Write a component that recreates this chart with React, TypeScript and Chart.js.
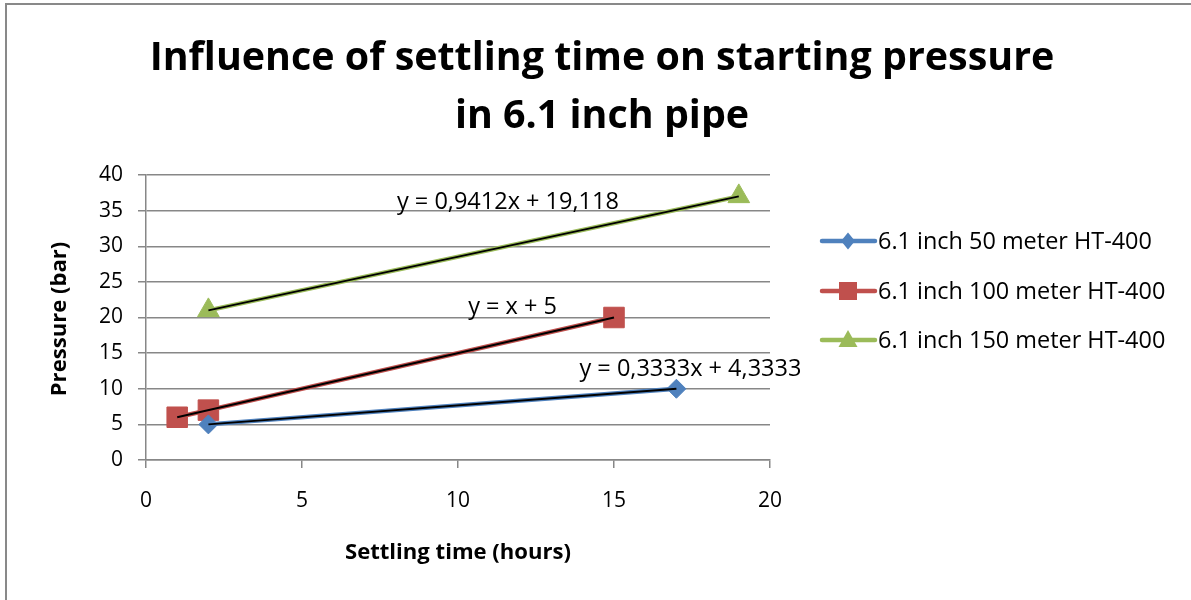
import React, { useEffect, useRef } from "react";
import { Chart, registerables } from "chart.js";

Chart.register(...registerables);

// ---------- data ----------
const SERIES_NAMES = [
  "6.1 inch 50 meter HT-400",
  "6.1 inch 100 meter HT-400",
  "6.1 inch 150 meter HT-400",
];
const HOURS_50 = [2, 17];
const PRESSURE_50 = [5, 10];
const HOURS_100 = [1, 2, 15];
const PRESSURE_100 = [6, 7, 20];
const HOURS_150 = [2, 19];
const PRESSURE_150 = [21, 37];
const TREND_LABELS = ["y = 0,3333x + 4,3333", "y = x + 5", "y = 0,9412x + 19,118"];
const X_TICKS = [0, 5, 10, 15, 20];
const Y_TICKS = [0, 5, 10, 15, 20, 25, 30, 35, 40];
const TITLE_LINES = ["Influence of settling time on starting pressure", "in 6.1 inch pipe"];
const X_TITLE = "Settling time (hours)";
const Y_TITLE = "Pressure (bar)";

// ---------- styles ----------
const COLORS = ["#4F81BD", "#C0504D", "#9BBB59"];
const STYLES: any[] = ["rectRot", "rect", "triangle"];
const RADII = [9.5, 14.5, 12.5];
const FONT = "'Open Sans', sans-serif";
const GRID = "#878787";

const pts = (xs: number[], ys: number[]) => xs.map((x, i) => ({ x, y: ys[i] }));

// choose a font size so that `text` spans `target` pixels
function fitFont(ctx: CanvasRenderingContext2D, text: string, target: number, weight: string) {
  ctx.font = `${weight} 100px ${FONT}`;
  const w = ctx.measureText(text).width;
  const size = (100 * target) / w;
  return `${weight} ${size.toFixed(2)}px ${FONT}`;
}

function marker(ctx: CanvasRenderingContext2D, kind: number, x: number, y: number) {
  ctx.beginPath();
  if (kind === 0) {
    ctx.moveTo(x, y - 8.5);
    ctx.lineTo(x + 7, y);
    ctx.lineTo(x, y + 8.5);
    ctx.lineTo(x - 7, y);
  } else if (kind === 1) {
    ctx.rect(x - 9, y - 9, 18, 18);
  } else {
    ctx.moveTo(x, y - 10);
    ctx.lineTo(x + 9.5, y + 7);
    ctx.lineTo(x - 9.5, y + 7);
  }
  ctx.closePath();
  ctx.fill();
}

const decor = {
  id: "decor",
  afterDraw(chart: any) {
    const ctx = chart.ctx as CanvasRenderingContext2D;
    const xs = chart.scales.x;
    const ys = chart.scales.y;
    ctx.save();
    // outer frame
    ctx.strokeStyle = "#898989";
    ctx.lineWidth = 2;
    ctx.beginPath();
    ctx.moveTo(6, 600);
    ctx.lineTo(6, 4);
    ctx.lineTo(1191, 4);
    ctx.stroke();

    ctx.fillStyle = "#000";
    ctx.textAlign = "center";
    ctx.textBaseline = "middle";
    // title
    ctx.font = fitFont(ctx, TITLE_LINES[0], 905, "bold");
    ctx.fillText(TITLE_LINES[0], 602, 59);
    ctx.fillText(TITLE_LINES[1], 602, 117);

    // axis titles
    ctx.font = fitFont(ctx, X_TITLE, 226, "bold");
    ctx.fillText(X_TITLE, 458, 553);
    ctx.save();
    ctx.translate(60, 319);
    ctx.rotate(-Math.PI / 2);
    ctx.fillText(Y_TITLE, 0, 0);
    ctx.restore();

    // trendline labels (anchored in data coordinates)
    ctx.font = fitFont(ctx, TREND_LABELS[2], 222, "normal");
    const labelPos = [
      [17.45, 12.75],
      [11.75, 21.5],
      [11.6, 36.2],
    ];
    labelPos.forEach((p, i) => {
      ctx.fillText(TREND_LABELS[i], xs.getPixelForValue(p[0]), ys.getPixelForValue(p[1]));
    });

    // legend
    const ly = [241, 291, 340];
    ctx.textAlign = "left";
    ctx.font = fitFont(ctx, SERIES_NAMES[0], 274, "normal");
    SERIES_NAMES.forEach((name, i) => {
      ctx.strokeStyle = COLORS[i];
      ctx.lineWidth = 4.5;
      ctx.lineCap = "round";
      ctx.beginPath();
      ctx.moveTo(822, ly[i]);
      ctx.lineTo(875, ly[i]);
      ctx.stroke();
      ctx.fillStyle = COLORS[i];
      marker(ctx, i, 848, ly[i]);
      ctx.fillStyle = "#000";
      ctx.fillText(name, 878, ly[i] + 1);
    });
    ctx.restore();
  },
};

export default function App() {
  const ref = useRef<HTMLCanvasElement>(null);
  useEffect(() => {
    if (!ref.current) return;
    const seriesData = [
      pts(HOURS_50, PRESSURE_50),
      pts(HOURS_100, PRESSURE_100),
      pts(HOURS_150, PRESSURE_150),
    ];
    const datasets: any[] = [];
    seriesData.forEach((d, i) => {
      // trendline (black, on top)
      datasets.push({
        label: "trend " + i,
        data: [d[0], d[d.length - 1]],
        showLine: true,
        borderColor: "#000",
        borderWidth: 2,
        pointRadius: 0,
        order: 0,
      });
      datasets.push({
        label: SERIES_NAMES[i],
        data: d,
        showLine: true,
        borderColor: COLORS[i],
        backgroundColor: COLORS[i],
        borderWidth: 4.5,
        pointStyle: STYLES[i],
        pointRadius: RADII[i],
        pointBorderWidth: 1,
        order: 1,
      });
    });
    const chart = new Chart(ref.current, {
      type: "scatter",
      data: { datasets },
      options: {
        animation: false,
        responsive: false,
        events: [],
        layout: { padding: { top: 175, right: 421, left: 0, bottom: 0 } },
        plugins: { legend: { display: false }, tooltip: { enabled: false }, title: { display: false } },
        scales: {
          x: {
            type: "linear",
            min: 0,
            max: 20,
            afterBuildTicks: (s: any) => {
              s.ticks = X_TICKS.map((v) => ({ value: v }));
            },
            afterFit: (s: any) => {
              s.height = 140;
            },
            ticks: { color: "#000", font: { family: FONT, size: 21 }, padding: 20 },
            grid: { drawOnChartArea: false, drawTicks: true, tickLength: 8, color: GRID, lineWidth: 1.5 },
            border: { color: GRID, width: 1.5 },
          },
          y: {
            type: "linear",
            min: 0,
            max: 40,
            afterBuildTicks: (s: any) => {
              s.ticks = Y_TICKS.map((v) => ({ value: v }));
            },
            afterFit: (s: any) => {
              s.width = 146;
            },
            ticks: { color: "#000", font: { family: FONT, size: 21 }, padding: 15 },
            grid: { drawTicks: true, tickLength: 8, color: GRID, lineWidth: 1.5 },
            border: { color: GRID, width: 1.5 },
          },
        },
      },
      plugins: [decor],
    });
    return () => chart.destroy();
  }, []);
  return (
    <div style={{ position: "absolute", left: 0, top: 0, width: 1191, height: 600, background: "#fff" }}>
      <canvas ref={ref} width={1191} height={600} />
    </div>
  );
}
